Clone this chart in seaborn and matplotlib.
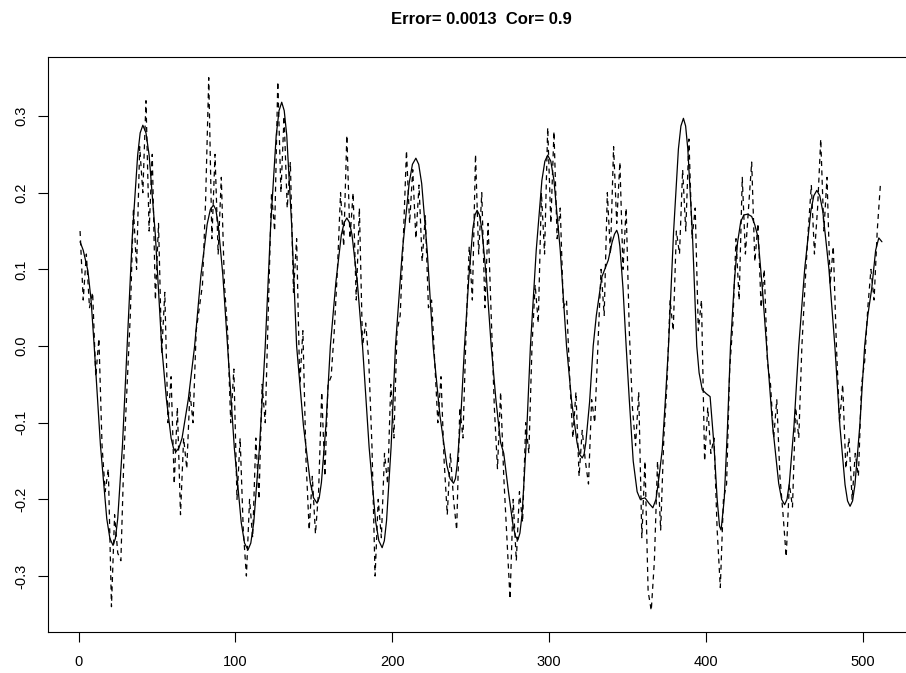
import numpy as np
import pandas as pd
import matplotlib
matplotlib.use("Agg")
import matplotlib.pyplot as plt
import seaborn as sns

# smooth (solid) curve: x positions and values
smooth_x = [1, 3, 6, 8, 10, 14, 18, 20, 22, 23.5, 25, 28, 31, 34.3, 37.7, 39.3, 41, 43, 45, 49,
            53, 56, 59, 60.5, 62, 64, 66, 70, 74, 78, 82, 84, 86, 87.5, 89, 92, 95, 99.3, 103.7,
            105.8, 108, 109.8, 111.7, 115.3, 119, 122.5, 126, 127.8, 129.5, 131.1, 132.7,
            135.8, 139, 143.3, 147.7, 149.8, 152, 153.4, 154.8, 157.7, 160.5, 164, 167.5,
            169.3, 171, 172.7, 174.3, 177.7, 181, 185.2, 189.3, 191.4, 193.5, 194.9, 196.3,
            199.2, 202, 206.3, 210.7, 212.8, 215, 216.8, 218.7, 222.3, 226, 230.3, 234.7,
            236.8, 239, 240.2, 241.3, 243.7, 246, 248.7, 251.3, 252.7, 254, 255.5, 257, 260,
            263, 266, 269, 271, 274, 277, 278.5, 280, 281.3, 282.7, 285.3, 288, 291.7, 295.3,
            297.2, 299, 301, 303, 307, 311, 314.3, 317.7, 319.3, 321, 322.2, 323.3, 325.7, 328,
            330, 333.5, 337.6, 340, 341.6, 343, 344, 345, 347, 349, 351, 353.5, 356, 358, 361,
            363.5, 366, 368, 370, 372, 374, 376, 379.2, 382.3, 383.9, 385.5, 386.9, 388.3,
            391.2, 394, 395.5, 397.5, 400, 402.5, 405, 407, 408.5, 409.5, 411.5, 413.5, 415.5,
            418, 420, 422, 424, 426.5, 429, 431, 433, 436, 438.5, 442.3, 446.2, 448.1, 450,
            451.5, 453, 456, 459, 462.8, 466.7, 468.6, 470.5, 472.4, 474.3, 478.2, 482, 485.2,
            488.5, 490.1, 491.7, 493.3, 494.8, 497.9, 501, 503, 505.5, 508, 510, 512]
smooth_y = [0.136, 0.125, 0.098, 0.06, 0.0, -0.13, -0.225, -0.251, -0.26, -0.251, -0.225,
            -0.13, 0.0, 0.144, 0.249, 0.278, 0.288, 0.278, 0.249, 0.144, 0.0, -0.069, -0.12,
            -0.133, -0.138, -0.133, -0.12, -0.069, 0.0, 0.092, 0.159, 0.178, 0.184, 0.178,
            0.159, 0.092, 0.0, -0.133, -0.23, -0.257, -0.266, -0.257, -0.23, -0.133, 0.0, 0.159,
            0.275, 0.307, 0.318, 0.307, 0.275, 0.159, 0.0, -0.103, -0.178, -0.198, -0.205,
            -0.198, -0.178, -0.103, 0.0, 0.083, 0.145, 0.161, 0.167, 0.161, 0.145, 0.083, 0.0,
            -0.132, -0.228, -0.254, -0.263, -0.254, -0.228, -0.132, 0.0, 0.122, 0.212, 0.237,
            0.245, 0.237, 0.212, 0.122, 0.0, -0.09, -0.155, -0.173, -0.179, -0.173, -0.155,
            -0.09, 0.0, 0.088, 0.153, 0.171, 0.177, 0.171, 0.153, 0.088, 0.0, -0.07, -0.126,
            -0.14, -0.19, -0.235, -0.248, -0.253, -0.244, -0.219, -0.127, 0.0, 0.125, 0.216,
            0.241, 0.249, 0.241, 0.216, 0.125, 0.0, -0.073, -0.126, -0.141, -0.146, -0.141,
            -0.126, -0.073, 0.0, 0.04, 0.09, 0.112, 0.135, 0.146, 0.151, 0.145, 0.13, 0.075,
            0.0, -0.07, -0.15, -0.19, -0.2, -0.198, -0.205, -0.211, -0.2, -0.17, -0.135, -0.07,
            0.0, 0.148, 0.257, 0.287, 0.297, 0.287, 0.257, 0.148, 0.0, -0.035, -0.057, -0.062,
            -0.066, -0.13, -0.2, -0.235, -0.24, -0.2, -0.11, 0.0, 0.085, 0.135, 0.162, 0.171,
            0.172, 0.169, 0.158, 0.142, 0.07, 0.0, -0.103, -0.179, -0.2, -0.207, -0.2, -0.179,
            -0.103, 0.0, 0.101, 0.176, 0.196, 0.203, 0.196, 0.176, 0.101, 0.0, -0.104, -0.181,
            -0.202, -0.209, -0.202, -0.181, -0.104, 0.0, 0.04, 0.075, 0.125, 0.141, 0.136]

# noisy (dashed) series, one value every 2 index steps starting at 1
noisy_y = [0.15, 0.06, 0.12, 0.05, 0.07, -0.04, 0.01, -0.13, -0.19, -0.16, -0.34, -0.22,
           -0.27, -0.28, -0.14, -0.05, 0.04, 0.18, 0.10, 0.26, 0.20, 0.32, 0.15, 0.25, 0.06,
           0.16, -0.01, 0.07, -0.10, -0.04, -0.18, -0.08, -0.22, -0.12, -0.16, -0.06, -0.10,
           0.02, 0.05, 0.08, 0.19, 0.35, 0.14, 0.25, 0.12, 0.22, 0.08, 0.02, -0.10, -0.03,
           -0.20, -0.12, -0.24, -0.30, -0.20, -0.25, -0.12, -0.20, -0.05, -0.10, 0.05, 0.20,
           0.15, 0.345, 0.20, 0.30, 0.18, 0.24, 0.07, 0.14, -0.05, 0.02, -0.15, -0.24, -0.17,
           -0.245, -0.19, -0.06, -0.17, -0.05, -0.04, 0.02, 0.10, 0.20, 0.13, 0.275, 0.14,
           0.20, 0.06, 0.18, 0.00, 0.03, -0.02, -0.13, -0.30, -0.20, -0.25, -0.14, -0.18,
           -0.05, -0.12, 0.02, 0.04, 0.14, 0.255, 0.16, 0.23, 0.14, 0.21, 0.11, 0.17, 0.05,
           0.06, -0.02, -0.10, -0.04, -0.15, -0.22, -0.14, -0.20, -0.24, -0.08, -0.12, 0.02,
           0.13, 0.06, 0.25, 0.12, 0.20, 0.05, 0.16, 0.04, -0.08, -0.16, -0.06, -0.17, -0.25,
           -0.33, -0.20, -0.28, -0.19, -0.23, -0.10, -0.14, 0.00, 0.08, 0.03, 0.20, 0.12,
           0.285, 0.16, 0.28, 0.14, 0.18, 0.05, 0.06, -0.04, -0.12, -0.06, -0.17, -0.11,
           -0.15, -0.18, -0.07, -0.10, 0.00, 0.10, 0.04, 0.20, 0.12, 0.26, 0.16, 0.24, 0.10,
           0.18, 0.02, -0.08, -0.13, -0.06, -0.25, -0.15, -0.32, -0.345, -0.28, -0.15, -0.24,
           -0.12, -0.05, 0.06, 0.02, 0.15, 0.12, 0.23, 0.15, 0.27, 0.14, 0.18, 0.02, 0.06,
           -0.15, -0.08, -0.14, -0.12, -0.24, -0.315, -0.20, -0.18, -0.03, 0.03, 0.14, 0.06,
           0.22, 0.12, 0.18, 0.24, 0.11, 0.16, 0.05, 0.10, -0.02, -0.05, -0.12, -0.07, -0.17,
           -0.22, -0.275, -0.18, -0.21, -0.08, -0.12, 0.00, 0.08, 0.15, 0.21, 0.12, 0.18,
           0.27, 0.15, 0.22, 0.08, 0.13, 0.00, -0.10, -0.05, -0.16, -0.12, -0.20, -0.14,
           -0.17, -0.05, -0.02, 0.05, 0.10, 0.06, 0.15, 0.21]
noisy_x = np.arange(1, 2 * len(noisy_y), 2)

title_text = "Error= 0.0013  Cor= 0.9"
x_ticks = [0, 100, 200, 300, 400, 500]
y_ticks = [-0.3, -0.2, -0.1, 0.0, 0.1, 0.2, 0.3]

sns.set_style("white")
plt.rcParams["font.family"] = ["Liberation Sans", "DejaVu Sans"]
plt.rcParams["text.color"] = "black"
plt.rcParams["xtick.color"] = "black"
plt.rcParams["ytick.color"] = "black"

fig = plt.figure(figsize=(9.06, 6.73), dpi=100)
ax = fig.add_axes([48 / 906, 41 / 673, 866 / 906, 575 / 673])

df_s = pd.DataFrame({"x": smooth_x, "y": smooth_y})
df_n = pd.DataFrame({"x": noisy_x, "y": noisy_y})

sns.lineplot(data=df_s, x="x", y="y", ax=ax, color="black", lw=0.9,
             estimator=None, sort=False)
sns.lineplot(data=df_n, x="x", y="y", ax=ax, color="black", lw=0.9,
             estimator=None, sort=False)
ax.lines[-1].set_dashes((4, 3.5))

ax.set_xlim(-19.44, 532.44)
ax.set_ylim(-0.373, 0.377)
ax.set_xticks(x_ticks)
ax.set_xticklabels([str(t) for t in x_ticks])
ax.set_yticks(y_ticks)
ax.set_yticklabels([f"{t:.1f}" for t in y_ticks], rotation=90, va="center")
ax.tick_params(axis="both", direction="out", length=7, width=0.8, color="black",
               labelsize=10.5, left=True, bottom=True, labelcolor="black")
ax.tick_params(axis="x", pad=9.5)
ax.tick_params(axis="y", pad=7)
ax.set_xlabel("")
ax.set_ylabel("")
for s in ax.spines.values():
    s.set_color("black")
    s.set_linewidth(0.8)

fig.text(481 / 906, 1 - 19 / 673, title_text, ha="center", va="center",
         fontsize=12, fontweight="bold", color="black")

fig.savefig("out.png", dpi=100)
